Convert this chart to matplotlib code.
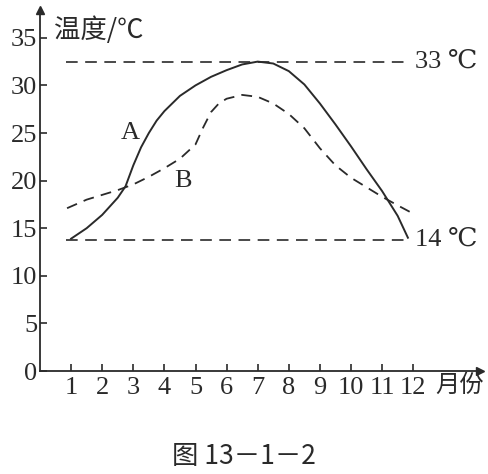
import matplotlib
matplotlib.use('Agg')
import matplotlib.pyplot as plt

# months and temperatures
months_a = [1, 1.5, 2, 2.5, 2.75, 3, 3.25, 3.5, 3.75, 4, 4.5, 5, 5.5, 6, 6.5, 7, 7.5, 8, 8.5, 9, 9.5, 10, 10.5, 11, 11.5, 11.83]
temp_a = [13.9, 15.0, 16.4, 18.2, 19.4, 21.6, 23.5, 25.0, 26.3, 27.3, 28.9, 30.0, 30.9, 31.6, 32.2, 32.5, 32.3, 31.5, 30.1, 28.1, 25.9, 23.6, 21.2, 18.9, 16.3, 14.0]

months_b = [0.87, 1.5, 2, 2.5, 3, 3.5, 4, 4.5, 5, 5.25, 5.5, 5.75, 6, 6.5, 7, 7.5, 8, 8.5, 9, 9.5, 10, 10.5, 11, 11.5, 11.96]
temp_b = [17.1, 18.0, 18.5, 19.0, 19.6, 20.4, 21.3, 22.3, 23.8, 25.6, 27.2, 28.1, 28.6, 29.0, 28.8, 28.1, 27.0, 25.5, 23.4, 21.6, 20.3, 19.3, 18.3, 17.4, 16.6]

line_start = 0.85
line_end = 11.9
high_line = 32.5
low_line = 13.8

x_ticks = list(range(1, 13))
y_ticks = [0, 5, 10, 15, 20, 25, 30, 35]

ink = '#2a2a2a'
serif = ['Liberation Serif', 'DejaVu Serif']
cjk = ['Noto Sans CJK SC', 'DejaVu Sans']

fig = plt.figure(figsize=(4.88, 4.74), dpi=100)
ax = fig.add_axes([40 / 488, (474 - 371) / 474, (480 - 40) / 488, (371 - 10) / 474])
ax.set_xlim(0, (480 - 40) / 31.1)
ax.set_ylim(0, (371 - 10) / 9.52)

ax.plot(months_a, temp_a, color=ink, lw=1.4)
ax.plot(months_b, temp_b, color=ink, lw=1.3, dashes=(6, 4))
ax.plot([line_start, line_end], [high_line, high_line], color=ink, lw=1.2, dashes=(7, 4.5))
ax.plot([line_start, line_end], [low_line, low_line], color=ink, lw=1.2, dashes=(7, 4.5))

for side in ['top', 'right']:
    ax.spines[side].set_visible(False)
for side in ['left', 'bottom']:
    ax.spines[side].set_color(ink)
    ax.spines[side].set_linewidth(1.3)

# arrow heads on the axes
ax.plot(1, 0, '>', color=ink, ms=6, transform=ax.transAxes, clip_on=False)
ax.plot(0, 1, '^', color=ink, ms=6, transform=ax.transAxes, clip_on=False)

ax.set_xticks(x_ticks)
ax.set_yticks(y_ticks)
ax.tick_params(direction='in', length=5, width=1.2, color=ink, labelcolor=ink)
ax.tick_params(axis='x', pad=4)
ax.tick_params(axis='y', pad=2)
for lab in ax.get_xticklabels() + ax.get_yticklabels():
    lab.set_fontfamily(serif)
    lab.set_fontsize(19)

ax.text(0.45, 34.4, '温度/℃', family=cjk, fontsize=19, color=ink, va='bottom', ha='left')
ax.text(12.72, -1.5, '月份', family=cjk, fontsize=17.5, color=ink, va='center', ha='left')
ax.text(2.9, 25.0, 'A', family=serif, fontsize=19, color=ink, ha='center', va='center')
ax.text(4.6, 20.0, 'B', family=serif, fontsize=19, color=ink, ha='center', va='center')
ax.text(12.05, high_line, '33 ℃', family=serif, fontsize=19, color=ink, ha='left', va='center')
ax.text(12.05, low_line, '14 ℃', family=serif, fontsize=19, color=ink, ha='left', va='center')

fig.text(0.5, 1 - 457 / 474, '图 13－1－2', family=cjk, fontsize=19, color=ink, ha='center', va='center')

fig.savefig('out.png', dpi=100)
